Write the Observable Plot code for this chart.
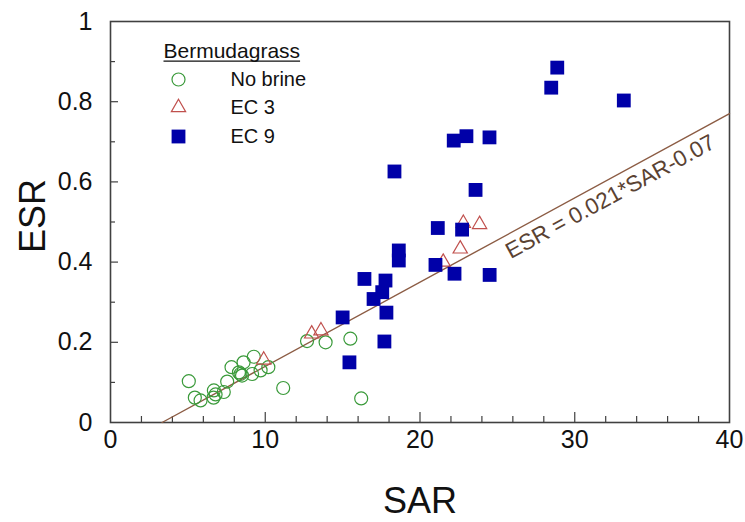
<!DOCTYPE html>
<html><head><meta charset="utf-8">
<script src="https://cdn.jsdelivr.net/npm/d3@7"></script>
<script src="https://cdn.jsdelivr.net/npm/@observablehq/plot@0.6"></script>
<style>
html,body{margin:0;padding:0;background:#fff;}
#chart{width:745px;height:522px;position:relative;}
</style>
</head><body><div id="chart"></div>
<script>
// ---- data ----
const noBrineSAR = [5.06, 5.45, 5.82, 6.68, 6.79, 6.66, 7.32, 7.54, 7.82, 8.3, 8.4, 8.5, 8.6, 9.26, 9.15, 9.7, 10.2, 11.16, 12.7, 13.9, 15.5, 16.2];
const noBrineESR = [0.103, 0.062, 0.055, 0.08, 0.07, 0.062, 0.076, 0.102, 0.138, 0.125, 0.121, 0.117, 0.150, 0.164, 0.121, 0.13, 0.138, 0.086, 0.203, 0.20, 0.209, 0.06];

const ec3SAR = [9.9, 13.0, 13.6, 21.5, 22.6, 22.8, 23.85];
const ec3ESR = [0.156, 0.221, 0.229, 0.40, 0.433, 0.497, 0.494];

const ec9SAR = [15.0, 15.44, 16.41, 17.0, 17.56, 17.7, 17.77, 17.83, 18.35, 18.63, 18.63, 21.0, 21.15, 22.18, 22.23, 22.72, 23.0, 23.59, 24.49, 24.5, 28.48, 28.87, 33.17];
const ec9ESR = [0.262, 0.150, 0.358, 0.308, 0.325, 0.202, 0.354, 0.274, 0.626, 0.429, 0.404, 0.393, 0.485, 0.703, 0.371, 0.481, 0.714, 0.580, 0.711, 0.368, 0.835, 0.885, 0.803];

const xTicks = [0, 10, 20, 30, 40];
const xMinorTicks = d3.range(2, 40, 2);
const yTicks = [0, 0.2, 0.4, 0.6, 0.8, 1];
const yMinorTicks = d3.range(1, 10).map(i => i / 10);

const xTitle = "SAR";
const yTitle = "ESR";
const legendTitle = "Bermudagrass";
const legendLabels = ["No brine", "EC 3", "EC 9"];

const fitSlope = 0.021;
const fitIntercept = -0.07;
const fitLabel = "ESR = 0.021*SAR-0.07";
const fitLabelSAR = 31.8;

// ---- layout / style ----
const W = 745, H = 522, mL = 110, mR = 16, mT = 21, mB = 100;
const xDomain = [0, 40], yDomain = [0, 1];
const green = "#3a9a3a", red = "#c0504d", blue = "#0000a8", brown = "#8c5c44", axisColor = "#404040";
const font = "'Liberation Sans', Arial, sans-serif";

const rows = (xs, ys) => xs.map((x, i) => ({SAR: x, ESR: ys[i]}));
const noBrine = rows(noBrineSAR, noBrineESR);
const ec3 = rows(ec3SAR, ec3ESR);
const ec9 = rows(ec9SAR, ec9ESR);

const fitX = [-fitIntercept / fitSlope, xDomain[1]];
const fitLine = fitX.map(x => ({SAR: x, ESR: fitSlope * x + fitIntercept}));
const frameW = W - mL - mR, frameH = H - mT - mB;
const pxPerX = frameW / (xDomain[1] - xDomain[0]);
const pxPerY = frameH / (yDomain[1] - yDomain[0]);
const theta = Math.atan(fitSlope * pxPerY / pxPerX);
const angleDeg = theta * 180 / Math.PI;
const labelOffset = 16;
const fitLabelRow = [{SAR: fitLabelSAR, ESR: fitSlope * fitLabelSAR + fitIntercept, t: fitLabel}];

const symR = {circle: 6.5, triangle: 5.3, square: 7.8};
const styles = [
  {symbol: "circle", r: symR.circle, stroke: green, fill: "none", strokeWidth: 1.2},
  {symbol: "triangle", r: symR.triangle, stroke: red, fill: "none", strokeWidth: 1.2},
  {symbol: "square", r: symR.square, fill: blue, stroke: "none"}
];

const legendX = 68, legendTextX = 120, legendRowY = [58, 86, 115];
const legendMarks = [];
legendLabels.forEach((lab, i) => {
  legendMarks.push(Plot.dot([lab], {frameAnchor: "top-left", dx: legendX, dy: legendRowY[i], ...styles[i]}));
  legendMarks.push(Plot.text([lab], {frameAnchor: "top-left", dx: legendTextX, dy: legendRowY[i], text: d => d, textAnchor: "start", lineAnchor: "middle", fontSize: 20, fill: "#111"}));
});

const plot = Plot.plot({
  width: W, height: H,
  marginLeft: mL, marginRight: mR, marginTop: mT, marginBottom: mB,
  style: {fontFamily: font, background: "#fff", color: "#111"},
  x: {domain: xDomain},
  y: {domain: yDomain},
  marks: [
    Plot.tickX(xMinorTicks.filter(v => v % 10 !== 0), {x: d => d, insetTop: frameH - 6, stroke: axisColor, strokeWidth: 1.2}),
    Plot.tickX(xTicks.slice(1, -1), {x: d => d, insetTop: frameH - 10, stroke: axisColor, strokeWidth: 1.2}),
    Plot.tickY(yMinorTicks.filter((v, i) => i % 2 === 0), {y: d => d, insetRight: frameW - 5, stroke: axisColor, strokeWidth: 1.2}),
    Plot.tickY(yTicks.slice(1, -1), {y: d => d, insetRight: frameW - 8, stroke: axisColor, strokeWidth: 1.2}),
    Plot.frame({stroke: axisColor, strokeWidth: 1.6}),
    Plot.axisX(xTicks, {tickSize: 0, tickPadding: 8, fontSize: 25, label: null, tickFormat: d => String(d), fill: "#111"}),
    Plot.axisY(yTicks, {tickSize: 0, tickPadding: 18, fontSize: 25, label: null, tickFormat: d => String(+d.toFixed(1)), fill: "#111"}),
    Plot.text([xTitle], {frameAnchor: "bottom", dy: 90, text: d => d, fontSize: 36, fill: "#111"}),
    Plot.text([yTitle], {frameAnchor: "left", dx: -77, dy: -6, rotate: -90, textAnchor: "middle", text: d => d, fontSize: 36, fill: "#111"}),
    Plot.line(fitLine, {x: "SAR", y: "ESR", stroke: brown, strokeWidth: 1.4}),
    Plot.text(fitLabelRow, {x: "SAR", y: "ESR", text: "t", rotate: -angleDeg,
      dx: Math.sin(theta) * labelOffset, dy: Math.cos(theta) * labelOffset,
      fontSize: 22.5, fill: "#5a4232"}),
    Plot.dot(noBrine, {x: "SAR", y: "ESR", ...styles[0]}),
    Plot.dot(ec3, {x: "SAR", y: "ESR", ...styles[1]}),
    Plot.dot(ec9, {x: "SAR", y: "ESR", ...styles[2]}),
    Plot.text([legendTitle], {frameAnchor: "top-left", dx: 53, dy: 30, text: d => d, textAnchor: "start", lineAnchor: "middle", fontSize: 21, fill: "#111"}),
    ...legendMarks
  ]
});
document.getElementById("chart").appendChild(plot);
// underline the legend title
const svg = d3.select(plot);
const tNode = svg.selectAll("text").filter(function() { return this.textContent === legendTitle; }).node();
if (tNode) {
  const b = tNode.getBoundingClientRect();
  const p = plot.getBoundingClientRect();
  svg.append("line").attr("x1", b.left - p.left).attr("x2", b.right - p.left)
    .attr("y1", b.bottom - p.top - 1).attr("y2", b.bottom - p.top - 1)
    .attr("stroke", "#111").attr("stroke-width", 1.3);
}
</script>
</body></html>
